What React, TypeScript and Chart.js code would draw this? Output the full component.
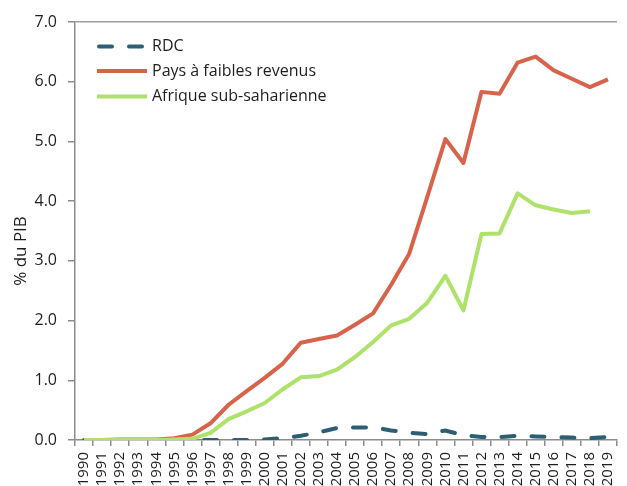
import React, { useEffect, useRef } from "react";
import { Chart, registerables } from "chart.js";

Chart.register(...registerables);

const years = [
  "1990", "1991", "1992", "1993", "1994", "1995", "1996", "1997", "1998", "1999",
  "2000", "2001", "2002", "2003", "2004", "2005", "2006", "2007", "2008", "2009",
  "2010", "2011", "2012", "2013", "2014", "2015", "2016", "2017", "2018", "2019",
];

const rdc = [
  0, 0, 0, 0, 0, 0, 0, 0, 0, 0,
  0.01, 0.03, 0.07, 0.13, 0.2, 0.21, 0.21, 0.16, 0.12, 0.1,
  0.16, 0.08, 0.05, 0.05, 0.07, 0.06, 0.05, 0.04, 0.03, 0.05,
];

const paysFaibles = [
  0, 0, 0.01, 0.01, 0.01, 0.03, 0.09, 0.28, 0.59, 0.82,
  1.04, 1.28, 1.63, 1.69, 1.75, 1.93, 2.12, 2.6, 3.12, 4.07,
  5.04, 4.64, 5.83, 5.8, 6.32, 6.42, 6.19, 6.05, 5.91, 6.04,
];

const afrique: (number | null)[] = [
  0, 0, 0, 0, 0, 0.01, 0.02, 0.12, 0.35, 0.48,
  0.62, 0.85, 1.05, 1.07, 1.18, 1.39, 1.64, 1.92, 2.03, 2.3,
  2.75, 2.17, 3.45, 3.46, 4.13, 3.93, 3.86, 3.8, 3.83, null,
];

const yTicks = [0, 1, 2, 3, 4, 5, 6, 7];

const seriesNames = ["RDC", "Pays à faibles revenus", "Afrique sub-saharienne"];
const seriesColors = ["#2C5E74", "#D8634B", "#AEE26B"];

const FONT = "'Open Sans', 'Noto Sans', sans-serif";
const TEXT = "#1E1E1E";
const AXIS = "#8C8C8C";

const legendPlugin = {
  id: "insideLegend",
  afterDraw(chart: any) {
    const ctx = chart.ctx;
    ctx.save();
    const x0 = 97;
    const x1 = 147;
    const rows = [46.5, 71, 96.5];
    chart.data.datasets.forEach((ds: any, i: number) => {
      const y = rows[i];
      const dashed = ds.borderDash && ds.borderDash.length;
      ctx.beginPath();
      ctx.strokeStyle = ds.borderColor;
      ctx.lineWidth = 4;
      ctx.lineCap = dashed ? "round" : "butt";
      ctx.setLineDash(ds.borderDash || []);
      ctx.moveTo(x0 + (dashed ? 2 : 0), y);
      ctx.lineTo(x1 - (dashed ? 2 : 0), y);
      ctx.stroke();
      ctx.setLineDash([]);
      ctx.fillStyle = TEXT;
      ctx.font = `16px ${FONT}`;
      ctx.textAlign = "left";
      ctx.textBaseline = "middle";
      ctx.fillText(ds.label, 152, y);
    });
    ctx.restore();
  },
};

const yTitlePlugin = {
  id: "yTitle",
  afterDraw(chart: any) {
    const ctx = chart.ctx;
    ctx.save();
    ctx.translate(21, 251);
    ctx.rotate(-Math.PI / 2);
    ctx.fillStyle = TEXT;
    ctx.font = `17px ${FONT}`;
    ctx.textAlign = "center";
    ctx.textBaseline = "middle";
    ctx.fillText("% du PIB", 0, 0);
    ctx.restore();
  },
};

export default function App() {
  const canvasRef = useRef<HTMLCanvasElement | null>(null);

  useEffect(() => {
    if (!canvasRef.current) return;
    const chart = new Chart(canvasRef.current, {
      type: "line",
      data: {
        labels: years,
        datasets: [
          {
            label: seriesNames[0],
            data: rdc,
            borderColor: seriesColors[0],
            backgroundColor: seriesColors[0],
            borderWidth: 4,
            borderDash: [13, 17],
            borderCapStyle: "round",
            pointRadius: 0,
            tension: 0,
            order: 2,
          },
          {
            label: seriesNames[1],
            data: paysFaibles,
            borderColor: seriesColors[1],
            backgroundColor: seriesColors[1],
            borderWidth: 4,
            borderJoinStyle: "round",
            pointRadius: 0,
            tension: 0,
            order: 1,
          },
          {
            label: seriesNames[2],
            data: afrique,
            borderColor: seriesColors[2],
            backgroundColor: seriesColors[2],
            borderWidth: 4,
            borderJoinStyle: "round",
            pointRadius: 0,
            tension: 0,
            order: 0,
          },
        ],
      },
      options: {
        responsive: false,
        animation: false,
        devicePixelRatio: 1,
        layout: { padding: { top: 22, left: 0, right: 2, bottom: 0 } },
        plugins: {
          legend: { display: false },
          tooltip: { enabled: false },
          title: { display: false },
        },
        scales: {
          x: {
            type: "category",
            offset: true,
            grid: {
              offset: true,
              drawOnChartArea: false,
              color: AXIS,
              tickColor: AXIS,
              tickLength: 6,
              lineWidth: 1.5,
            },
            border: { color: AXIS, width: 1.5 },
            ticks: {
              autoSkip: false,
              minRotation: 90,
              maxRotation: 90,
              padding: 6,
              color: TEXT,
              font: { family: FONT, size: 15 },
            },
            afterFit: (scale: any) => {
              scale.height = 46;
            },
          },
          y: {
            min: 0,
            max: 7,
            afterBuildTicks: (scale: any) => {
              scale.ticks = yTicks.map((v) => ({ value: v }));
            },
            grid: {
              color: (c: any) => (c.tick && c.tick.value === 7 ? "#A0A0A0" : "rgba(0,0,0,0)"),
              tickColor: AXIS,
              tickLength: 7,
              lineWidth: 1.5,
            },
            border: { color: AXIS, width: 1.5 },
            ticks: {
              padding: 11,
              color: TEXT,
              font: { family: FONT, size: 16 },
              callback: (v: any) => Number(v).toFixed(1),
            },
            afterFit: (scale: any) => {
              scale.width = 75;
            },
          },
        },
      },
      plugins: [legendPlugin, yTitlePlugin],
    });
    return () => chart.destroy();
  }, []);

  return (
    <div
      style={{
        position: "absolute",
        left: 0,
        top: 0,
        width: 627,
        height: 486,
        overflow: "hidden",
        background: "#ffffff",
      }}
    >
      <canvas ref={canvasRef} width={632} height={486} style={{ width: 632, height: 486, display: "block" }} />
    </div>
  );
}
